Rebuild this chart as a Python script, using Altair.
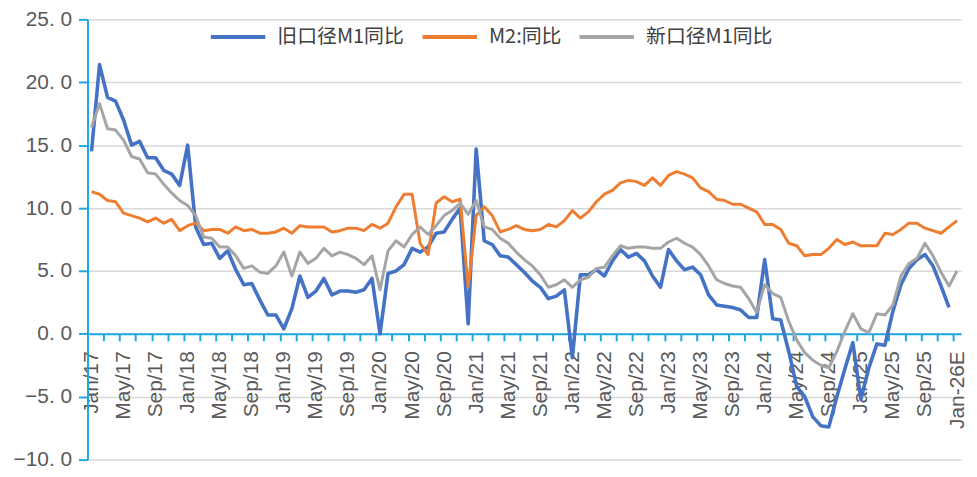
import json
import altair as alt
import pandas as pd

# ---------------- data (Jan 2017 .. Jan 2026E, monthly) ----------------
series_names = ["旧口径M1同比", "M2:同比", "新口径M1同比"]
series_colors = ["#4472C4", "#ED7D31", "#A5A5A5"]

old_m1 = [
    14.5, 21.4, 18.8, 18.5, 17.0, 15.0, 15.3, 14.0, 14.0, 13.0, 12.7, 11.8,   # 2017
    15.0, 8.5, 7.1, 7.2, 6.0, 6.6, 5.1, 3.9, 4.0, 2.7, 1.5, 1.5,              # 2018
    0.4, 2.0, 4.6, 2.9, 3.4, 4.4, 3.1, 3.4, 3.4, 3.3, 3.5, 4.4,               # 2019
    0.0, 4.8, 5.0, 5.5, 6.8, 6.5, 6.9, 8.0, 8.1, 9.1, 10.0, 0.8,              # 2020
    14.7, 7.4, 7.1, 6.2, 6.1, 5.5, 4.9, 4.2, 3.7, 2.8, 3.0, 3.5,              # 2021
    -1.9, 4.7, 4.7, 5.1, 4.6, 5.8, 6.7, 6.1, 6.4, 5.8, 4.6, 3.7,              # 2022
    6.7, 5.8, 5.1, 5.3, 4.7, 3.1, 2.3, 2.2, 2.1, 1.9, 1.3, 1.3,               # 2023
    5.9, 1.2, 1.1, -1.4, -4.2, -5.0, -6.6, -7.3, -7.4, -5.0, -2.8, -0.7,      # 2024
    -5.2, -2.7, -0.8, -0.9, 1.8, 3.9, 5.2, 5.9, 6.3, 5.4, 3.8, 2.1,           # 2025
    None,                                                                     # Jan-26E
]
m2 = [
    11.3, 11.1, 10.6, 10.5, 9.6, 9.4, 9.2, 8.9, 9.2, 8.8, 9.1, 8.2,
    8.6, 8.8, 8.2, 8.3, 8.3, 8.0, 8.5, 8.2, 8.3, 8.0, 8.0, 8.1,
    8.4, 8.0, 8.6, 8.5, 8.5, 8.5, 8.1, 8.2, 8.4, 8.4, 8.2, 8.7,
    8.4, 8.8, 10.1, 11.1, 11.1, 7.2, 6.3, 10.4, 10.9, 10.5, 10.7, 3.7,
    9.4, 10.1, 9.4, 8.1, 8.3, 8.6, 8.3, 8.2, 8.3, 8.7, 8.5, 9.0,
    9.8, 9.2, 9.7, 10.5, 11.1, 11.4, 12.0, 12.2, 12.1, 11.8, 12.4, 11.8,
    12.6, 12.9, 12.7, 12.4, 11.6, 11.3, 10.7, 10.6, 10.3, 10.3, 10.0, 9.7,
    8.7, 8.7, 8.3, 7.2, 7.0, 6.2, 6.3, 6.3, 6.8, 7.5, 7.1, 7.3,
    7.0, 7.0, 7.0, 8.0, 7.9, 8.3, 8.8, 8.8, 8.4, 8.2, 8.0, 8.5,
    9.0,
]
new_m1 = [
    16.4, 18.3, 16.3, 16.2, 15.4, 14.1, 13.9, 12.8, 12.7, 11.9, 11.2, 10.6,
    10.2, 9.4, 7.7, 7.6, 6.9, 6.9, 6.2, 5.2, 5.4, 4.9, 4.8, 5.4,
    6.5, 4.6, 6.5, 5.6, 6.0, 6.8, 6.2, 6.5, 6.3, 6.0, 5.5, 6.2,
    3.5, 6.6, 7.4, 6.9, 7.9, 8.5, 7.9, 8.6, 9.4, 9.8, 10.4, 9.5,
    10.6, 8.5, 8.3, 7.6, 7.2, 6.5, 5.9, 5.4, 4.7, 3.7, 3.9, 4.3,
    3.7, 4.3, 4.5, 5.2, 5.3, 6.2, 7.0, 6.8, 6.9, 6.9, 6.8, 6.8,
    7.3, 7.6, 7.2, 6.9, 6.3, 5.4, 4.3, 4.0, 3.8, 3.7, 2.8, 1.7,
    3.9, 3.2, 2.9, 1.0, -0.5, -1.5, -2.1, -2.5, -2.7, -1.4, 0.2, 1.6,
    0.4, 0.1, 1.6, 1.5, 2.3, 4.6, 5.6, 6.0, 7.2, 6.2, 4.9, 3.8,
    5.0,
]
tick_labels = [
    "Jan/17", "May/17", "Sep/17", "Jan/18", "May/18", "Sep/18",
    "Jan/19", "May/19", "Sep/19", "Jan/20", "May/20", "Sep/20",
    "Jan/21", "May/21", "Sep/21", "Jan/22", "May/22", "Sep/22",
    "Jan/23", "May/23", "Sep/23", "Jan/24", "May/24", "Sep/24",
    "Jan/25", "May/25", "Sep/25", "Jan-26E",
]
y_ticks = [-10, -5, 0, 5, 10, 15, 20, 25]

# ---------------- table ----------------
rows = []
for name, vals in zip(series_names, [old_m1, m2, new_m1]):
    for i, v in enumerate(vals):
        if v is not None:
            rows.append({"i": i, "series": name, "value": v})
df = pd.DataFrame(rows)

n = len(m2)
W, H = 879, 443
y_min, y_max = -10, 25
zero_offset = -H * (0 - y_min) / (y_max - y_min)
CYAN = "#1FA8E0"
LABEL_GREY = "#595959"

x_scale = alt.Scale(domain=[-0.5, n - 0.5], nice=False, zero=False)
y_scale = alt.Scale(domain=[y_min, y_max], nice=False, zero=False)

y_axis = alt.Axis(
    values=y_ticks, title=None,
    labelExpr="replace(format(datum.value, '.1f'), '.', '. ')",
    labelFont="Liberation Sans", labelFontSize=21, labelColor=LABEL_GREY,
    labelPadding=7,
    domain=True, domainColor=CYAN, domainWidth=2,
    ticks=True, tickColor=CYAN, tickWidth=2, tickSize=9,
    grid=True, gridColor="#D9D9D9", gridWidth=1.5,
)

tick_axis = alt.Axis(
    orient="bottom", values=[-0.5 + 2 * k for k in range((n + 1) // 2)],
    labels=False, title=None, grid=False,
    domain=True, domainColor=CYAN, domainWidth=2,
    ticks=True, tickColor=CYAN, tickWidth=2, tickSize=7,
    offset=zero_offset,
)

label_expr = json.dumps(tick_labels) + "[round(datum.value / 4)]"
label_axis = alt.Axis(
    orient="bottom", values=list(range(0, n, 4)), title=None, grid=False,
    domain=False, ticks=False, tickSize=0,
    labelExpr=label_expr, labelAngle=270, labelAlign="right", labelBaseline="middle",
    labelFont="Liberation Sans", labelFontSize=21, labelColor=LABEL_GREY,
    labelPadding=17, labelOverlap=False, labelBound=False, labelFlush=False,
    offset=zero_offset,
)

color = alt.Color(
    "series:N",
    scale=alt.Scale(domain=series_names, range=series_colors),
    sort=series_names,
    legend=alt.Legend(
        title=None, orient="none", legendX=122, legendY=-12, direction="horizontal",
        symbolType="stroke", symbolSize=3000, symbolStrokeWidth=4,
        labelFont="Noto Sans CJK SC", labelFontSize=20, labelColor="#404040",
        labelOffset=10, columnPadding=10, labelLimit=0,
    ),
)

base = alt.Chart(df)
layers = []
widths = [3.6, 3.0, 3.0]
for k, (name, w) in enumerate(zip(series_names, widths)):
    layers.append(
        base.transform_filter(alt.datum.series == name)
        .mark_line(strokeWidth=w, strokeJoin="round")
        .encode(
            x=alt.X("i:Q", scale=x_scale, axis=tick_axis if k == 0 else None),
            y=alt.Y("value:Q", scale=y_scale, axis=y_axis),
            color=color,
        )
    )
labels_layer = base.mark_point(opacity=0).encode(
    x=alt.X("i:Q", scale=x_scale, axis=label_axis),
    y=alt.Y("value:Q", scale=y_scale, axis=y_axis),
)

chart = (
    alt.layer(*layers, labels_layer)
    .resolve_axis(x="independent")
    .properties(
        width=W, height=H,
        padding={"left": 80, "top": 10, "right": 8, "bottom": 8},
        autosize=alt.AutoSizeParams(type="none"),
        background="white",
    )
    .configure_view(stroke=None)
)

chart.save("out.html", embed_options={"renderer": "svg", "actions": False})
